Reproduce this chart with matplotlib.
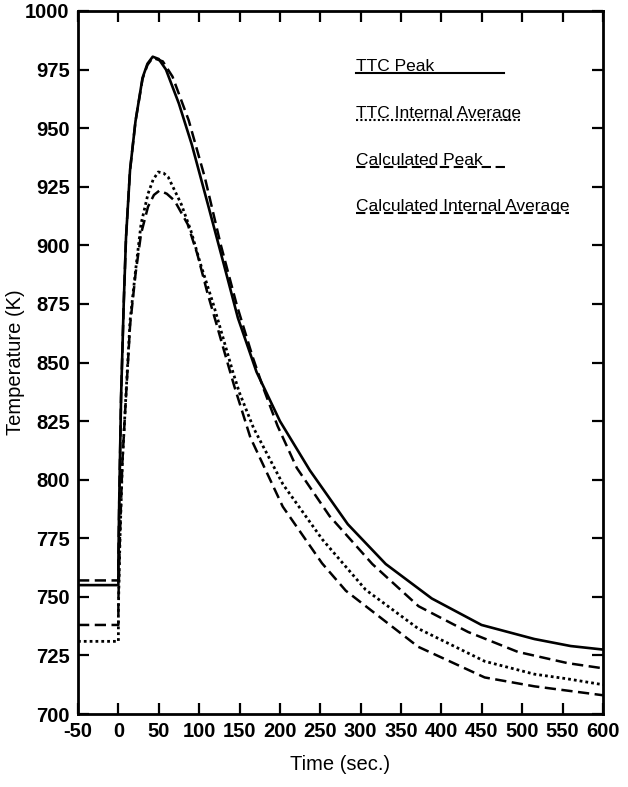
import numpy as np
import matplotlib
matplotlib.use("Agg")
import matplotlib.pyplot as plt

plt.rcParams['font.family'] = ['Liberation Sans', 'DejaVu Sans']
plt.rcParams['axes.unicode_minus'] = False

# TTC Peak (solid)
t_ttc_peak = [-50, 0, 0, 1, 3.3, 6.6, 9.4, 14.4, 21.2, 29.9, 36, 42.5, 50, 58.9,
              74.9, 90.9, 110.8, 130.7, 148, 171, 200, 237, 284, 331, 388, 449.6,
              515, 560, 600]
T_ttc_peak = [755, 755, 765, 790, 835, 875, 903, 932, 953, 971.5, 977.5, 980.5,
              979.5, 975, 960.5, 943, 917.5, 891.7, 869, 846, 825, 804, 781, 764,
              749.3, 738, 732, 729, 727.5]

# Calculated Peak (long dashes)
t_calc_peak = [-50, 0, 0, 1, 3.3, 6.6, 9.4, 14.4, 21.2, 29.9, 36, 42.5, 55, 67,
               87.1, 107, 126.7, 146.6, 166.6, 179, 197, 220.9, 261.4, 314.4,
               371.6, 433, 494.6, 556.3, 600]
T_calc_peak = [757, 757, 765, 790, 835, 875, 903, 932, 953, 971, 977, 980, 978.5,
               972, 953.3, 929, 900.3, 874.5, 852, 839.5, 823, 805, 784.5, 764,
               746, 735, 726.5, 721.7, 719.5]

# TTC Internal Average (dotted)
t_ttc_avg = [-50, 0, 0, 2, 5, 9.5, 14.5, 21.3, 28.1, 36.7, 43, 49.4, 56, 61.7,
             77.8, 89.8, 101.8, 117.8, 129.8, 141.7, 150, 167.4, 203.8, 252.5,
             306.2, 371, 453.5, 515, 556, 600]
T_ttc_avg = [731, 731, 745, 775, 808, 837, 867.9, 889.3, 909.2, 922, 928, 931.3,
             930.8, 929.1, 917.6, 906.2, 891.9, 874.6, 860.3, 846, 837, 822, 798,
             774.5, 753, 736.5, 722.5, 717, 715, 712.5]

# Calculated Internal Average (dashes)
t_calc_avg = [-50, 0, 0, 2, 5, 9.5, 14.5, 21.3, 28.1, 36.7, 44, 51, 60, 69.7,
              85.8, 97.8, 109.7, 121.7, 133.6, 143.4, 163.4, 203.5, 252.2, 281.6,
              371.1, 453.5, 515.2, 600]
T_calc_avg = [738, 738, 748, 777, 808, 836, 866, 888, 905, 916.5, 921.5, 923.4,
              922, 919, 909, 896.2, 880.4, 866.1, 851.7, 840, 818, 788.5, 764.3,
              752.6, 728.7, 715.6, 711.8, 708]

legend_labels = ["TTC Peak", "TTC Internal Average", "Calculated Peak",
                 "Calculated Internal Average"]

xticks = list(range(-50, 601, 50))
yticks = list(range(700, 1001, 25))

fig = plt.figure(figsize=(6.28, 7.87), dpi=100)
ax = fig.add_axes([78 / 628, (787 - 714) / 787, 525 / 628, 703 / 787])

dash = (0, (4.5, 2.2))
dots = (0, (1, 1.1))
ax.plot(t_ttc_peak, T_ttc_peak, color='black', lw=1.9, ls='-')
ax.plot(t_calc_peak, T_calc_peak, color='black', lw=1.8, ls=dash)
ax.plot(t_ttc_avg, T_ttc_avg, color='black', lw=2.0, ls=dots)
ax.plot(t_calc_avg, T_calc_avg, color='black', lw=1.8, ls=dash)

ax.set_xlim(-50, 600)
ax.set_ylim(700, 1000)
ax.set_xticks(xticks)
ax.set_xticklabels([str(v) for v in xticks])
ax.set_yticks(yticks)
ax.set_yticklabels([str(v) for v in yticks])
ax.tick_params(direction='in', length=8, width=1.6, top=True, right=True,
               labelsize=14.5, pad=6)
for lab in ax.get_xticklabels() + ax.get_yticklabels():
    lab.set_fontweight('bold')
for s in ax.spines.values():
    s.set_linewidth(2)

ax.set_xlabel("Time (sec.)", fontsize=14.5, labelpad=10)
ax.set_ylabel("Temperature (K)", fontsize=14.5)
ax.yaxis.set_label_coords(-0.10, 0.5)

# legend drawn as underlined text with line samples
styles = ['-', dots, dash, dash]
ends = [0.812, 0.845, 0.815, 0.935]
ypos = [0.915, 0.848, 0.781, 0.716]
for lab, st, xe, yp in zip(legend_labels, styles, ends, ypos):
    ax.text(0.53, yp, lab, transform=ax.transAxes, fontsize=12.5,
            ha='left', va='baseline')
    ax.plot([0.53, xe], [yp - 0.003, yp - 0.003], transform=ax.transAxes,
            color='black', lw=1.5, ls=st)

fig.savefig("out.png", dpi=100)
